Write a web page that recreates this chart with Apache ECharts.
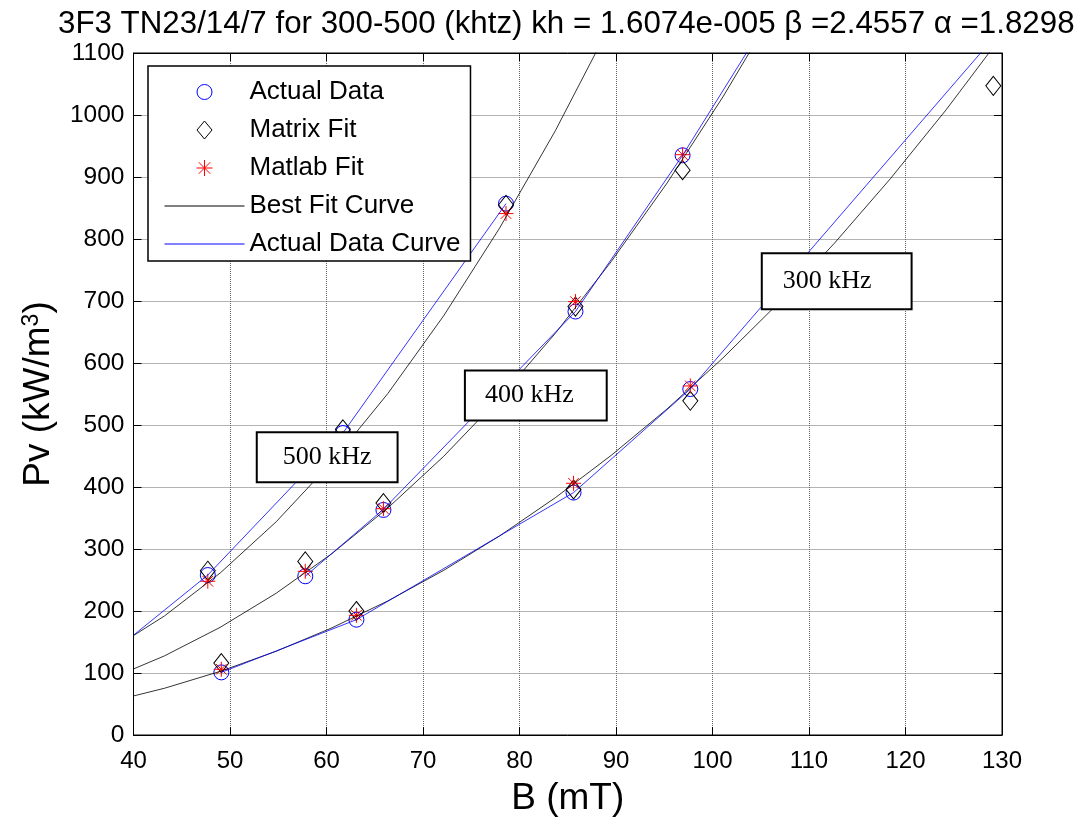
<!DOCTYPE html>
<html><head><meta charset="utf-8">
<script src="https://cdn.jsdelivr.net/npm/echarts@6/dist/echarts.min.js"></script>
<style>html,body{margin:0;padding:0;background:#fff;}#c{width:1083px;height:823px;}</style>
</head><body><div id="c"></div>
<script>
// ---- data ----
const titleText = '3F3 TN23/14/7 for 300-500 (khtz) kh = 1.6074e-005 \u03B2 =2.4557 \u03B1 =1.8298';
const seriesNames = ['Actual Data', 'Matrix Fit', 'Matlab Fit', 'Best Fit Curve', 'Actual Data Curve'];

// measured points per frequency
const dataB500 = [47.7, 61.7, 78.6];
const actual500 = [258, 487, 857];
const matrix500 = [265, 493, 855];
const matlab500 = [248, 478, 841];

const dataB400 = [57.8, 65.9, 85.8, 96.9];
const actual400 = [256, 363, 683, 935];
const matrix400 = [280, 374, 691, 911];
const matlab400 = [264, 365, 699, 936];

const dataB300 = [49.1, 63.1, 85.6, 97.7];
const actual300 = [101, 186, 391, 558];
const matrix300 = [116, 200, 396, 539];
const matlab300 = [106, 193, 406, 563];

const extraMatrixB = [129.1];
const extraMatrixP = [1047];

// best fit curves (polyline vertices)
const fitB = [37.43, 43.21, 49.00, 54.79, 60.57, 66.36, 72.14, 77.93, 83.71, 89.50, 95.29, 101.07, 106.86, 112.64, 118.43, 124.21, 130.00];
const fit300 = [53.0, 75.4, 102.7, 135.1, 172.9, 216.3, 265.5, 321.0, 382.7, 451.0, 525.9, 607.9, 697.0, 793.3, 897.2, 1008.4, 1128.0];
const fit400 = [89.7, 127.6, 173.8, 228.7, 292.7, 366.2, 449.4, 543.4, 647.8, 763.5, 890.2, 1029.0, 1179.9];
const fit500 = [135.0, 192.0, 261.5, 344.0, 440.3, 550.8, 676.1, 817.4, 974.5, 1148.4];

// actual data curves
const curveB500 = [40, 47.7, 61.7, 78.6];
const curveP500 = [161, 258, 487, 857];
const curveB400 = [57.8, 65.9, 85.8, 96.9, 106];
const curveP400 = [256, 364, 683, 935, 1162];
const curveB300 = [49.1, 63.1, 85.6, 97.7, 130];
const curveP300 = [101, 186, 391, 558, 1140];

// annotation boxes
const noteText = ['500 kHz', '400 kHz', '300 kHz'];
const noteB = [60.07, 81.69, 112.87];
const noteP = [448, 547.6, 731.8];

// axes
const xMin = 40, xMax = 130, xStep = 10;
const yMin = 0, yMax = 1100, yStep = 100;

// ---- build ----
const zip = (xs, ys) => xs.map((x, i) => [x, ys[i]]);
const actualPts = [].concat(zip(dataB500, actual500), zip(dataB400, actual400), zip(dataB300, actual300));
const matrixPts = [].concat(zip(dataB500, matrix500), zip(dataB400, matrix400), zip(dataB300, matrix300), zip(extraMatrixB, extraMatrixP));
const matlabPts = [].concat(zip(dataB500, matlab500), zip(dataB400, matlab400), zip(dataB300, matlab300));

const SANS = 'Liberation Sans, Arial, sans-serif';
const SERIF = 'Liberation Serif, Times New Roman, serif';
const starPath = 'path://M0,-10L0,10M-10,0L10,0M-7.07,-7.07L7.07,7.07M-7.07,7.07L7.07,-7.07';
const notePads = [[11, 25, 11, 25], [11, 32, 11, 19], [14, 39, 14, 20]];

// legend icons (80 x 18 boxes)
const iconCircle = 'path://M0,0M80,18M47.5,9A7.5,7.5,0,1,1,32.5,9A7.5,7.5,0,1,1,47.5,9Z';
const iconDiamond = 'path://M0,0M80,18M40,0L47.5,9L40,18L32.5,9Z';
const iconStar = 'path://M0,0M80,18M40,1L40,17M32,9L48,9M34.3,3.3L45.7,14.7M34.3,14.7L45.7,3.3';
const iconLine = 'path://M0,0M80,18M0,9L80,9';

function lineSeries(name, pts, color) {
  return {
    type: 'line', name: name, data: pts, symbol: 'none', showSymbol: false,
    lineStyle: { color: color, width: 0.8 }, itemStyle: { color: color },
    clip: true, animation: false, z: 3
  };
}

const series = [
  { type: 'scatter', name: seriesNames[0], data: actualPts, symbol: 'circle', symbolSize: 15,
    itemStyle: { color: 'rgba(0,0,0,0)', borderColor: '#0000ff', borderWidth: 1, opacity: 1 }, z: 2, animation: false },
  { type: 'scatter', name: seriesNames[1], data: matrixPts, symbol: 'diamond', symbolSize: [15, 19],
    itemStyle: { color: 'rgba(0,0,0,0)', borderColor: '#000', borderWidth: 1, opacity: 1 }, z: 2, animation: false },
  { type: 'scatter', name: seriesNames[2], data: matlabPts, symbol: starPath, symbolSize: 15,
    itemStyle: { color: 'rgba(0,0,0,0)', borderColor: '#ff0000', borderWidth: 1, opacity: 1 }, z: 2, animation: false },
  lineSeries(seriesNames[3], zip(fitB, fit500), '#000'),
  lineSeries(seriesNames[3], zip(fitB, fit400), '#000'),
  lineSeries(seriesNames[3], zip(fitB, fit300), '#000'),
  lineSeries(seriesNames[4], zip(curveB500, curveP500), '#0000ff'),
  lineSeries(seriesNames[4], zip(curveB400, curveP400), '#0000ff'),
  lineSeries(seriesNames[4], zip(curveB300, curveP300), '#0000ff'),
  { type: 'scatter', name: 'notes', silent: true, animation: false, z: 10, symbolSize: 1,
    itemStyle: { color: 'rgba(0,0,0,0)', opacity: 1 },
    data: noteText.map((t, i) => ({
      value: [noteB[i], noteP[i]], name: t,
      label: { padding: notePads[i] }
    })),
    label: { show: true, position: 'inside', formatter: p => p.name,
      fontFamily: SERIF, fontSize: 26, color: '#000', backgroundColor: '#fff',
      borderColor: '#000', borderWidth: 2, textBorderWidth: 0 }
  }
];

const legendIcons = [iconCircle, iconDiamond, iconStar, iconLine, iconLine];
const legendColors = ['#0000ff', '#000000', '#ff0000', '#000000', '#0000ff'];

const chart = echarts.init(document.getElementById('c'), null, { renderer: 'canvas' });
const axisCommon = {
  type: 'value',
  axisLine: { show: true, onZero: false, lineStyle: { color: '#000', width: 1 } },
  axisTick: { show: true, inside: true, length: 8, lineStyle: { color: '#000' } }
};
chart.setOption({
  backgroundColor: '#fff',
  animation: false,
  title: { text: titleText, left: 53, top: 4,
    textStyle: { fontFamily: SANS, fontSize: 31.3, fontWeight: 'normal', color: '#000' } },
  grid: { left: 133.5, right: 81, top: 53, bottom: 88, show: true, borderColor: '#000', borderWidth: 1, backgroundColor: '#fff' },
  legend: {
    data: seriesNames.map((n, i) => ({
      name: n, icon: legendIcons[i],
      itemStyle: { color: 'rgba(0,0,0,0)', borderColor: legendColors[i], borderWidth: 1, opacity: 1 }
    })),
    orient: 'vertical', left: 148, top: 66,
    padding: [13, 10, 4, 16], itemWidth: 80, itemHeight: 18, itemGap: 12,
    symbolKeepAspect: true,
    borderColor: '#000', borderWidth: 1.5, backgroundColor: '#fff',
    textStyle: { fontFamily: SANS, fontSize: 26, color: '#000' },
    selectedMode: false, z: 12
  },
  xAxis: [
    Object.assign({}, axisCommon, {
      min: xMin, max: xMax, interval: xStep, position: 'bottom',
      axisLabel: { color: '#000', fontFamily: SANS, fontSize: 24, margin: 14 },
      splitLine: { show: true, showMinLine: false, showMaxLine: false, lineStyle: { color: '#666', type: 'dotted', width: 1 } },
      name: 'B (mT)', nameLocation: 'middle', nameGap: 45,
      nameTextStyle: { fontFamily: SANS, fontSize: 37, color: '#000' }
    }),
    Object.assign({}, axisCommon, {
      min: xMin, max: xMax, interval: xStep, position: 'top',
      axisLabel: { show: false }, splitLine: { show: false }
    })
  ],
  yAxis: [
    Object.assign({}, axisCommon, {
      min: yMin, max: yMax, interval: yStep, position: 'left',
      axisLabel: { color: '#000', fontFamily: SANS, fontSize: 24.5, margin: 9, formatter: v => String(v) },
      splitLine: { show: true, showMinLine: false, showMaxLine: false, lineStyle: { color: '#666', type: 'dotted', width: 1 } },
      name: 'Pv (kW/m{sup|3})', nameLocation: 'middle', nameGap: 76,
      nameTextStyle: { fontFamily: SANS, fontSize: 37, color: '#000',
        rich: { sup: { fontFamily: SANS, fontSize: 23, color: '#000', verticalAlign: 'top' } } }
    }),
    Object.assign({}, axisCommon, {
      min: yMin, max: yMax, interval: yStep, position: 'right',
      axisLabel: { show: false }, splitLine: { show: false }
    })
  ],
  series: series
});
</script></body></html>
